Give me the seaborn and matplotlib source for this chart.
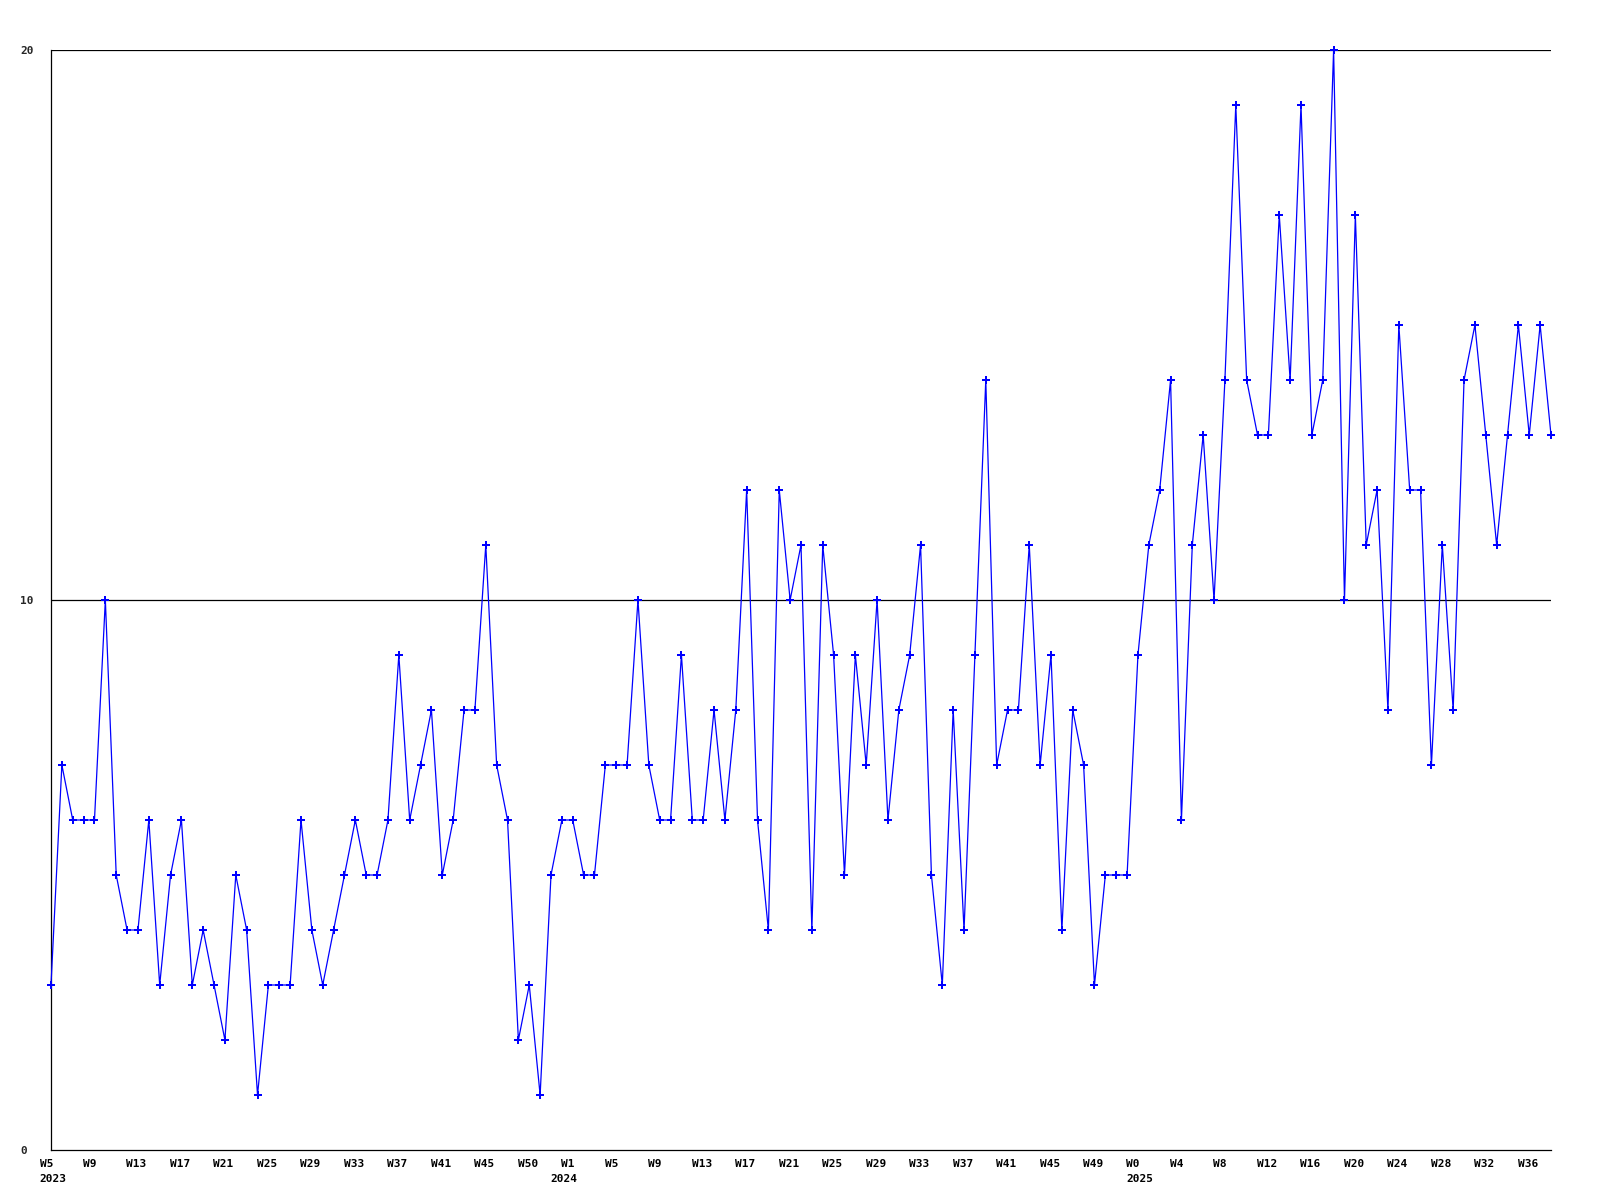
import matplotlib
matplotlib.use("Agg")
import matplotlib.pyplot as plt
import seaborn as sns
import pandas as pd

# weekly counts, 2023 W5 .. 2025 W38
counts = [
    3, 7, 6, 6, 6, 10, 5, 4, 4, 6, 3, 5, 6, 3, 4, 3, 2, 5, 4, 1,
    3, 3, 3, 6, 4, 3, 4, 5, 6, 5, 5, 6, 9, 6, 7, 8, 5, 6, 8, 8,
    11, 7, 6, 2, 3, 1, 5, 6, 6, 5, 5, 7, 7, 7, 10, 7, 6, 6, 9, 6,
    6, 8, 6, 8, 12, 6, 4, 12, 10, 11, 4, 11, 9, 5, 9, 7, 10, 6, 8, 9,
    11, 5, 3, 8, 4, 9, 14, 7, 8, 8, 11, 7, 9, 4, 8, 7, 3, 5, 5, 5,
    9, 11, 12, 14, 6, 11, 13, 10, 14, 19, 14, 13, 13, 17, 14, 19, 13, 14, 20, 10,
    17, 11, 12, 8, 15, 12, 12, 7, 11, 8, 14, 15, 13, 11, 13, 15, 13, 15, 13,
]

# axis labels (one every 4th week), grouped per year
years = ["2023", "2024", "2025"]
weeks_2023 = ["W5", "W9", "W13", "W17", "W21", "W25", "W29", "W33", "W37", "W41", "W45", "W50"]
weeks_2024 = ["W1", "W5", "W9", "W13", "W17", "W21", "W25", "W29", "W33", "W37", "W41", "W45", "W49"]
weeks_2025 = ["W0", "W4", "W8", "W12", "W16", "W20", "W24", "W28", "W32", "W36"]
y_ticks = [0, 10, 20]

sns.set_theme(style="white")
plt.rcParams['font.family'] = ['DejaVu Sans Mono']

df = pd.DataFrame({"week": range(len(counts)), "count": counts})

fig = plt.figure(figsize=(16, 12), dpi=100)
ax = fig.add_axes([51 / 1600, 50 / 1200, 1500 / 1600, 1100 / 1200])

for v in y_ticks[1:]:
    ax.axhline(v, color="black", lw=0.9, zorder=1)

sns.lineplot(data=df, x="week", y="count", color="#0000ff", linewidth=0.9,
             marker="P", markersize=5.5, markeredgewidth=0, ax=ax, zorder=3,
             clip_on=False)

ax.set_xlim(0, len(counts) - 1)
ax.set_ylim(0, 20)
ax.set_xlabel("")
ax.set_ylabel("")
ax.set_xticks([])
ax.set_yticks(y_ticks)
ax.set_yticklabels([str(t) for t in y_ticks], fontsize=8, fontweight="bold")
ax.tick_params(axis="y", length=0, pad=22.3)
for lab in ax.get_yticklabels():
    lab.set_ha("left")

for side in ["top", "right"]:
    ax.spines[side].set_visible(False)
for side in ["left", "bottom"]:
    ax.spines[side].set_color("black")
    ax.spines[side].set_linewidth(0.9)

# week labels every 4 points, year under the point where the year begins
step = 4
offset = 11.5 / (1500 / (len(counts) - 1))
trans = ax.get_xaxis_transform()
year_shift = {"2024": -1}  # new year starts one point before the W1 label
pos = 0
for year, weeks in zip(years, [weeks_2023, weeks_2024, weeks_2025]):
    for i, w in enumerate(weeks):
        ax.text(pos - offset, -14 / 1100, w, transform=trans, ha="left", va="center",
                fontsize=8, fontweight="bold", color="black")
        if i == 0:
            ax.text(pos + year_shift.get(year, 0) - offset, -29 / 1100, year,
                    transform=trans, ha="left", va="center",
                    fontsize=8, fontweight="bold", color="black")
        pos += step

fig.savefig("out.png", dpi=100)
